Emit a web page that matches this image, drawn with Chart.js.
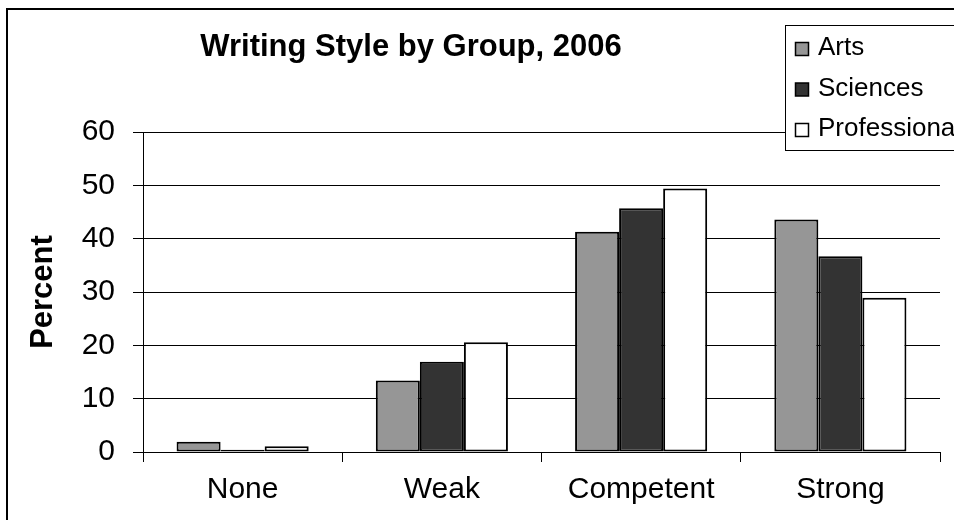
<!DOCTYPE html>
<html>
<head>
<meta charset="utf-8">
<title>Writing Style by Group, 2006</title>
<script src="https://cdn.jsdelivr.net/npm/chart.js@4.4.1/dist/chart.umd.min.js"></script>
<style>
  html, body { margin: 0; padding: 0; background: #fff; }
  canvas { display: block; }
</style>
</head>
<body>
<canvas id="styleChart" width="954" height="520"></canvas>
<script>
const categories = ['None', 'Weak', 'Competent', 'Strong'];
const seriesNames = ['Arts', 'Sciences', 'Professional'];
const arts = [1.9, 13.4, 41.3, 43.6];
const sciences = [0.4, 16.9, 45.7, 36.7];
const professional = [1.1, 20.6, 49.4, 28.9];
const yTickValues = [0, 10, 20, 30, 40, 50, 60];

const fills = ['#969696', '#333333', '#ffffff'];
const fontFamily = '"Liberation Sans", Arial, sans-serif';

// frame, title and the boxed legend are drawn straight onto the canvas
const decorations = {
    id: 'decorations',
    afterDraw(chart) {
        const ctx = chart.ctx;
        ctx.save();

        ctx.strokeStyle = '#000';
        ctx.lineWidth = 2;
        ctx.strokeRect(7, 9, 1000, 1000);

        ctx.fillStyle = '#000';
        ctx.font = 'bold 31px ' + fontFamily;
        ctx.textAlign = 'center';
        ctx.textBaseline = 'alphabetic';
        ctx.fillText('Writing Style by Group, 2006', 411, 56);

        // legend box runs off the right edge
        ctx.fillStyle = '#fff';
        ctx.fillRect(785.5, 25.5, 200, 125);
        ctx.lineWidth = 1;
        ctx.strokeStyle = '#000';
        ctx.strokeRect(785.5, 25.5, 200, 125);

        ctx.font = '26px ' + fontFamily;
        ctx.textAlign = 'left';
        chart.data.datasets.forEach((ds, i) => {
            const base = 55 + i * 40.5;
            ctx.fillStyle = ds.backgroundColor;
            ctx.fillRect(795.5, base - 12.5, 13, 13);
            ctx.strokeStyle = '#000';
            ctx.lineWidth = 1.5;
            ctx.strokeRect(795.5, base - 12.5, 13, 13);
            ctx.fillStyle = '#000';
            ctx.fillText(ds.label, 818, base);
        });

        ctx.restore();
    }
};

const datasets = [arts, sciences, professional].map((values, i) => ({
    label: seriesNames[i],
    data: values,
    backgroundColor: fills[i],
    borderColor: '#000',
    borderWidth: 2,
    borderSkipped: false,
    categoryPercentage: 0.663,
    barPercentage: 1.0
}));

const ctx = document.getElementById('styleChart').getContext('2d');
const styleChart = new Chart(ctx, {
    type: 'bar',
    data: {
        labels: categories,
        datasets: datasets
    },
    options: {
        responsive: false,
        animation: false,
        devicePixelRatio: 1,
        layout: {
            padding: { top: 132, right: 14, left: 0, bottom: 0 }
        },
        plugins: {
            legend: { display: false },
            title: { display: false },
            tooltip: { enabled: false }
        },
        scales: {
            x: {
                afterFit(scale) { scale.height = 68; },
                grid: {
                    display: true,
                    drawOnChartArea: false,
                    offset: true,
                    color: '#000',
                    tickLength: 10
                },
                border: { display: true, color: '#000', width: 1 },
                ticks: {
                    color: '#000',
                    padding: 10,
                    font: { family: fontFamily, size: 30 }
                }
            },
            y: {
                min: 0,
                max: 60,
                afterFit(scale) { scale.width = 143; },
                afterBuildTicks(scale) {
                    scale.ticks = yTickValues.map(v => ({ value: v }));
                },
                grid: {
                    color: '#000',
                    lineWidth: 1,
                    tickLength: 10
                },
                border: { display: true, color: '#000', width: 1 },
                ticks: {
                    color: '#000',
                    padding: 18,
                    font: { family: fontFamily, size: 30 }
                },
                title: {
                    display: true,
                    text: 'Percent',
                    color: '#000',
                    padding: { top: 25, bottom: 0 },
                    font: { family: fontFamily, size: 31, weight: 'bold' }
                }
            }
        }
    },
    plugins: [decorations]
});
</script>
</body>
</html>
